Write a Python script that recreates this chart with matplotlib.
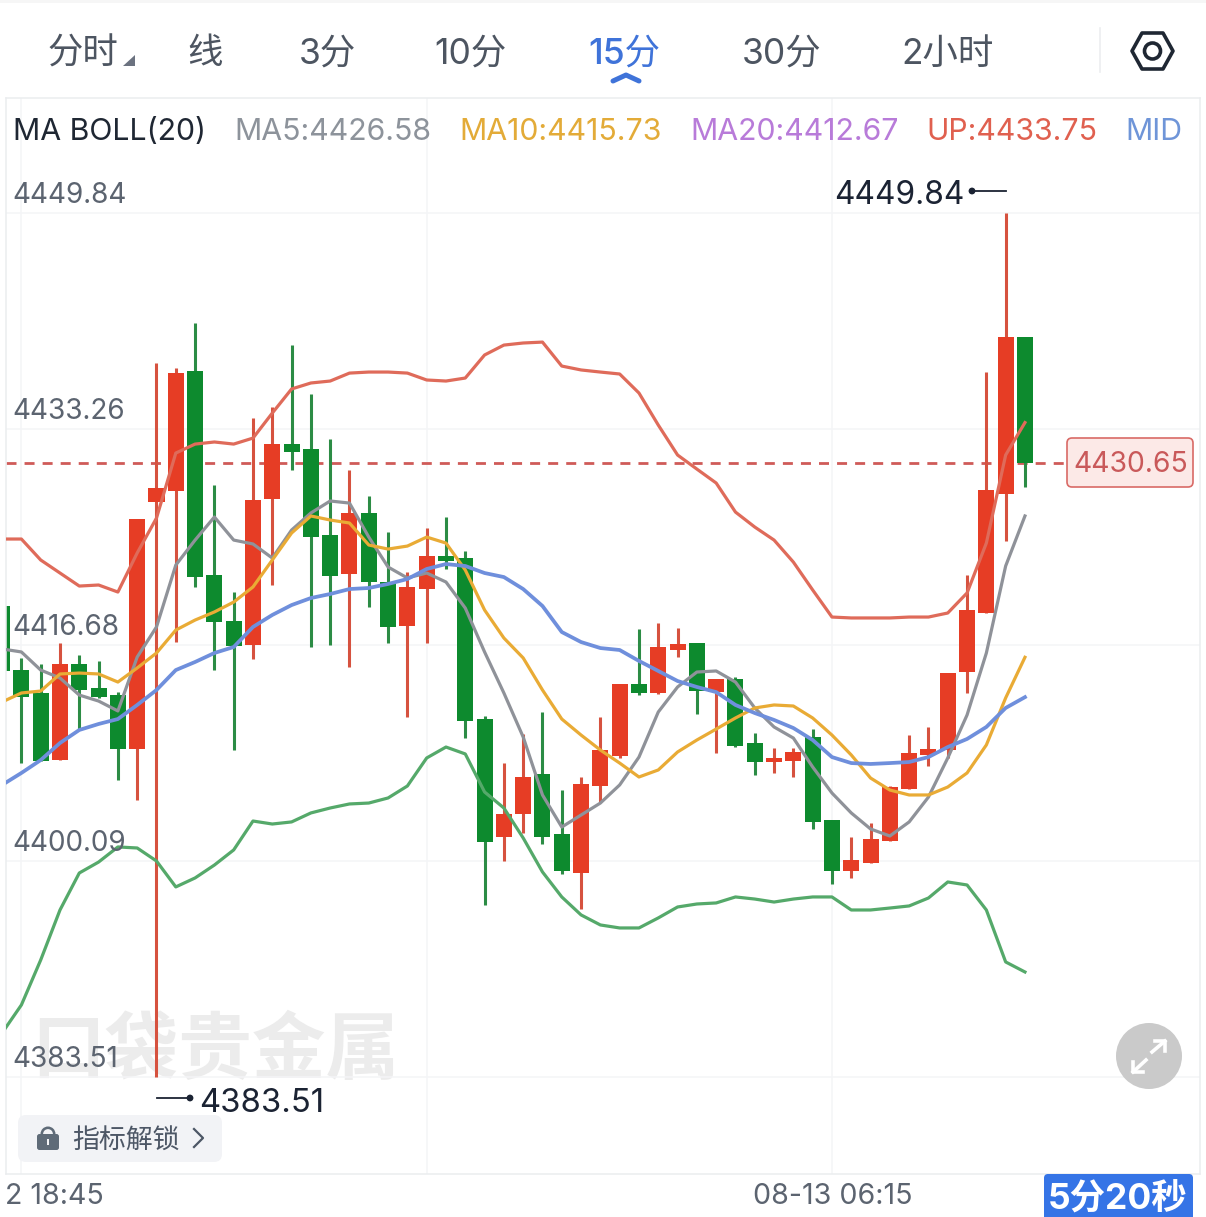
import matplotlib
matplotlib.use("Agg")
import matplotlib.pyplot as plt
from matplotlib.patches import FancyBboxPatch, Circle, Polygon, Rectangle, Wedge
from matplotlib.lines import Line2D

plt.rcParams['font.family'] = ['Inter', 'Noto Sans CJK SC', 'DejaVu Sans']

W, H = 1206, 1217
DPI = 100

# ---------- data ----------
tabs = ['分时', '线', '3分', '10分', '15分', '30分', '2小时']
legend_labels = ['MA BOLL(20)', 'MA5:4426.58', 'MA10:4415.73', 'MA20:4412.67', 'UP:4433.75', 'MID']
y_ticks = [4449.84, 4433.26, 4416.68, 4400.09, 4383.51]
y_tick_labels = ['4449.84', '4433.26', '4416.68', '4400.09', '4383.51']
x_grid = [1, 22, 43]
last_price = 4430.65

# top / bottom of candle body and wick extremes, bullish flag
highs = [4419.67, 4415.68, 4415.21, 4416.83, 4415.91, 4415.45, 4413.06, 4426.35, 4438.32, 4437.94,
         4441.39, 4428.96, 4420.74, 4434.10, 4434.94, 4439.70, 4435.94, 4432.49, 4430.11, 4428.11,
         4425.35, 4422.28, 4425.66, 4426.50, 4423.89, 4411.22, 4407.61, 4409.84, 4411.53, 4405.54,
         4406.54, 4411.15, 4413.68, 4417.90, 4418.36, 4417.98, 4416.83, 4414.06, 4414.22, 4409.92,
         4408.77, 4408.77, 4410.22, 4403.24, 4401.93, 4403.01, 4405.85, 4409.76, 4410.38, 4414.52,
         4422.05, 4437.63, 4449.84, 4440.32]
body_tops = [4419.67, 4414.75, 4412.99, 4415.21, 4415.21, 4413.37, 4412.83, 4426.35, 4428.73, 4437.55,
             4437.71, 4422.05, 4418.52, 4427.80, 4432.10, 4432.10, 4431.72, 4425.12, 4426.81, 4426.81,
             4421.51, 4421.13, 4423.51, 4423.51, 4423.35, 4410.99, 4403.70, 4406.54, 4406.77, 4402.16,
             4406.00, 4408.61, 4413.68, 4413.68, 4416.52, 4416.75, 4416.83, 4414.06, 4414.06, 4409.15,
             4408.00, 4408.46, 4409.61, 4403.24, 4400.17, 4401.78, 4405.77, 4408.38, 4408.69, 4414.52,
             4419.36, 4428.57, 4440.32, 4440.32]
body_bottoms = [4414.68, 4412.68, 4407.77, 4407.84, 4413.22, 4412.68, 4408.69, 4408.69, 4427.65, 4428.50,
                4421.89, 4418.44, 4416.60, 4416.67, 4427.88, 4431.49, 4424.96, 4421.97, 4422.12, 4421.51,
                4418.06, 4418.13, 4420.97, 4423.12, 4410.84, 4401.55, 4401.93, 4403.70, 4401.93, 4399.32,
                4399.17, 4405.85, 4408.15, 4412.99, 4412.99, 4416.29, 4413.14, 4413.06, 4408.92, 4407.69,
                4407.69, 4407.77, 4403.09, 4399.32, 4399.32, 4399.94, 4401.63, 4405.62, 4408.23, 4408.61,
                4414.60, 4419.13, 4428.27, 4430.65]
lows = [4414.68, 4407.61, 4407.77, 4407.84, 4410.15, 4412.60, 4406.31, 4404.77, 4383.51, 4416.90,
        4421.13, 4414.75, 4408.61, 4415.60, 4421.28, 4430.11, 4416.52, 4416.67, 4414.98, 4419.59,
        4416.83, 4411.15, 4416.83, 4422.51, 4409.53, 4396.71, 4400.09, 4402.24, 4401.40, 4399.09,
        4396.41, 4404.62, 4408.00, 4412.83, 4412.91, 4415.75, 4411.38, 4408.38, 4408.84, 4406.69,
        4406.85, 4406.54, 4402.55, 4398.32, 4398.79, 4399.94, 4401.63, 4405.62, 4407.38, 4408.00,
        4412.99, 4419.13, 4424.66, 4428.80]
bullish = [0, 0, 0, 1, 0, 0, 0, 1, 1, 1,
           0, 0, 0, 1, 1, 0, 0, 0, 1, 0,
           0, 1, 1, 0, 0, 0, 1, 1, 0, 0,
           1, 1, 1, 0, 1, 1, 0, 1, 0, 0,
           1, 1, 0, 0, 1, 1, 1, 1, 1, 1,
           1, 1, 1, 0]

boll_up = [4424.81, 4424.81, 4423.20, 4422.20, 4421.20, 4421.28, 4420.74, 4423.74, 4426.42, 4431.41,
           4432.10, 4432.26, 4432.10, 4432.56, 4434.48, 4436.33, 4436.79, 4436.94, 4437.55, 4437.63,
           4437.63, 4437.55, 4437.02, 4436.94, 4437.17, 4438.94, 4439.70, 4439.86, 4439.93, 4438.09,
           4437.79, 4437.63, 4437.48, 4436.02, 4433.56, 4431.26, 4430.18, 4429.11, 4426.88, 4425.73,
           4424.73, 4423.04, 4420.90, 4418.82, 4418.75, 4418.75, 4418.75, 4418.82, 4418.82, 4419.13,
           4420.67, 4424.50, 4431.26, 4433.75]
boll_mid = [4405.93, 4406.85, 4407.84, 4409.15, 4410.15, 4410.61, 4410.99, 4412.07, 4413.22, 4414.75,
            4415.37, 4416.06, 4416.52, 4418.06, 4418.98, 4419.74, 4420.28, 4420.59, 4420.97, 4421.05,
            4421.36, 4421.74, 4422.51, 4422.89, 4422.74, 4422.20, 4421.89, 4420.97, 4419.67, 4417.67,
            4416.90, 4416.44, 4416.29, 4415.45, 4414.68, 4413.91, 4413.45, 4413.06, 4412.07, 4411.45,
            4410.92, 4410.30, 4409.38, 4408.07, 4407.61, 4407.54, 4407.61, 4407.69, 4408.07, 4408.84,
            4409.46, 4410.38, 4411.84, 4412.67]
boll_low = [4386.89, 4389.04, 4392.49, 4396.33, 4399.17, 4400.01, 4401.17, 4401.09, 4400.09, 4398.10,
            4398.79, 4399.78, 4400.94, 4403.16, 4402.93, 4403.09, 4403.78, 4404.16, 4404.47, 4404.54,
            4404.93, 4405.85, 4408.00, 4408.84, 4408.31, 4405.39, 4404.16, 4401.86, 4399.25, 4397.33,
            4395.95, 4395.18, 4394.95, 4394.95, 4395.72, 4396.56, 4396.79, 4396.87, 4397.33, 4397.17,
            4396.94, 4397.17, 4397.33, 4397.33, 4396.33, 4396.33, 4396.48, 4396.64, 4397.25, 4398.48,
            4398.25, 4396.33, 4392.34, 4391.57]
ma5 = [4416.37, 4416.14, 4414.75, 4414.14, 4412.83, 4412.37, 4411.61, 4415.75, 4418.06, 4422.81,
       4424.73, 4426.50, 4424.73, 4424.43, 4423.35, 4425.50, 4426.81, 4427.73, 4427.57, 4424.96,
       4422.66, 4421.82, 4422.20, 4421.51, 4419.51, 4416.14, 4412.99, 4409.61, 4405.16, 4402.70,
       4403.62, 4404.54, 4405.93, 4408.07, 4411.53, 4413.45, 4414.60, 4414.68, 4413.83, 4411.84,
       4410.38, 4409.53, 4407.31, 4405.31, 4403.78, 4402.55, 4402.01, 4403.09, 4405.00, 4408.00,
       4411.30, 4416.06, 4422.74, 4426.58]
ma10 = [4412.30, 4412.99, 4413.14, 4414.45, 4414.52, 4414.45, 4413.83, 4414.91, 4416.06, 4417.82,
        4418.59, 4419.21, 4419.97, 4421.13, 4423.20, 4425.27, 4426.58, 4426.27, 4426.04, 4424.35,
        4424.04, 4424.27, 4424.96, 4424.50, 4422.43, 4419.36, 4417.21, 4415.68, 4413.22, 4410.99,
        4409.76, 4408.61, 4407.61, 4406.54, 4407.08, 4408.46, 4409.38, 4410.22, 4411.07, 4411.84,
        4412.07, 4411.99, 4411.07, 4409.76, 4408.23, 4406.46, 4405.54, 4405.16, 4405.16, 4405.77,
        4406.85, 4409.00, 4412.61, 4415.73]

# ---------- figure ----------
fig = plt.figure(figsize=(W / DPI, H / DPI), dpi=DPI, facecolor='white')


def overlay(z):
    a = fig.add_axes([0, 0, 1, 1], zorder=z)
    a.set_xlim(0, W)
    a.set_ylim(H, 0)
    a.axis('off')
    a.patch.set_alpha(0)
    return a


bg = overlay(0)
fg = overlay(2)

# plot box: pixels x 6..1200, y 98..1174
ax = fig.add_axes([6 / W, 1 - 1174 / H, (1200 - 6) / W, (1174 - 98) / H], zorder=1)
ax.patch.set_alpha(0)
ax.set_xlim(0.202, 62.07)
ax.set_ylim(4376.06, 4458.67)
for s in ax.spines.values():
    s.set_color('#ebedef')
    s.set_linewidth(1.1)
ax.set_yticks(y_ticks)
ax.set_xticks(x_grid)
ax.tick_params(length=0, labelleft=False, labelbottom=False)
ax.grid(True, color='#f4f5f7', lw=1.1)
ax.set_axisbelow(True)

ax.axhline(last_price, color='#cf5b58', lw=2.0, dashes=(3.6, 2.9), zorder=1.5,
           xmax=(1067 - 6) / (1200 - 6))

RED, GREEN = '#e63d25', '#0d8a2e'
REDW, GREENW = '#d6523f', '#2c8c45'
n = len(highs)
for i in range(n):
    up = bullish[i]
    ax.vlines(i, lows[i], highs[i], color=REDW if up else GREENW, lw=2.2, zorder=2)
    ax.bar(i, body_tops[i] - body_bottoms[i], bottom=body_bottoms[i], width=0.83,
           color=RED if up else GREEN, lw=0, zorder=2.5)

xs = list(range(n))
ax.plot(xs, boll_up, color='#df6b5a', lw=2.3, zorder=3, solid_joinstyle='round')
ax.plot(xs, boll_low, color='#55a96a', lw=2.3, zorder=3, solid_joinstyle='round')
ax.plot(xs, ma5, color='#8f9299', lw=2.3, zorder=3.1, solid_joinstyle='round')
ax.plot(xs, ma10, color='#e9ab35', lw=2.3, zorder=3.2, solid_joinstyle='round')
ax.plot(xs, boll_mid, color='#6f8fdc', lw=2.7, zorder=3.3, solid_joinstyle='round')

# y tick labels sit just above their grid lines
for v, lab in zip(y_ticks, y_tick_labels):
    ax.annotate(lab, xy=(0, v), xycoords=ax.get_yaxis_transform(), xytext=(4.5, 12.4),
                textcoords='offset points', ha='left', va='center', fontsize=20.1,
                color='#5c6470', zorder=5)

# ---------- tabs ----------
tab_x = [83, 205, 327, 470, 624, 782, 947]
for t, x in zip(tabs, tab_x):
    active = t == '15分'
    fg.text(x, 54, t, ha='center', va='center', fontsize=25.5,
            color='#3f73d9' if active else '#4d5561', fontweight='medium' if active else 'normal')
fg.add_patch(Polygon([(123, 66), (135, 66), (135, 55)], closed=True, fc='#6b7280', ec='none'))
fg.add_line(Line2D([613, 626, 639], [81, 75, 81], color='#3f73d9', lw=3.6, solid_capstyle='round'))
fg.add_line(Line2D([1099.5, 1099.5], [28, 72], color='#eceef0', lw=1.2))
fg.add_patch(Polygon([(1132, 51), (1142, 33), (1163, 33), (1173, 51), (1163, 69), (1142, 69)],
                     closed=True, fc='none', ec='#1f2733', lw=2.6, joinstyle='round'))
fg.add_patch(Circle((1152.5, 51), 8, fc='none', ec='#1f2733', lw=2.6))

# ---------- legend row ----------
legend_x = [13, 234, 459, 690, 926, 1125]
legend_c = ['#1f2733', '#8d939b', '#e3ab38', '#b87bd9', '#e0604f', '#6f95d8']
for t, x, c in zip(legend_labels, legend_x, legend_c):
    fg.text(x, 132, t, ha='left', va='center', fontsize=21.8, color=c)

# ---------- high / low markers ----------
fg.text(834, 196, '4449.84', ha='left', va='center', fontsize=22.8, color='#1b2333')
fg.add_line(Line2D([972, 1006], [191, 191], color='#1b2333', lw=1.3))
fg.add_patch(Circle((972, 191), 3.4, fc='#1b2333', ec='none'))
fg.text(199, 1103, '4383.51', ha='left', va='center', fontsize=23.7, color='#1b2333')
fg.add_line(Line2D([157, 190], [1098, 1098], color='#1b2333', lw=1.3))
fg.add_patch(Circle((190, 1098), 3.4, fc='#1b2333', ec='none'))

# ---------- last price tag ----------
fg.add_patch(FancyBboxPatch((1070, 441), 120, 43, boxstyle='round,pad=3,rounding_size=5',
                            fc='#fce9e7', ec='#d96a66', lw=1.2))
fg.text(1130.5, 465, '4430.65', ha='center', va='center', fontsize=20.4, color='#c9595a')

# ---------- watermark ----------
bg.text(215, 1053, '口袋贵金属', ha='center', va='center', fontsize=53, fontweight='bold',
        color='#ececec')

# ---------- unlock button ----------
fg.add_patch(FancyBboxPatch((24, 1121), 192, 35, boxstyle='round,pad=6,rounding_size=8',
                            fc='#f2f3f6', ec='none'))
fg.add_patch(FancyBboxPatch((38, 1135), 20, 14, boxstyle='round,pad=1,rounding_size=2.5',
                            fc='#5f6b78', ec='none'))
fg.add_patch(Wedge((48, 1134), 7.5, 180, 360, width=2.6, fc='#5f6b78', ec='none'))
fg.add_patch(Rectangle((47, 1139), 2.4, 6, fc='#f2f3f6', ec='none'))
fg.text(72, 1141, '指标解锁', ha='left', va='center', fontsize=19.4, color='#4d5766')
fg.add_line(Line2D([194, 203, 194], [1129, 1138, 1147], color='#4d5766', lw=1.6))

# ---------- expand button ----------
fg.add_patch(Circle((1149, 1056), 33, fc='#cacaca', ec='none'))
for pts in ([(1152, 1052), (1165, 1041)], [(1146, 1060), (1133, 1072)],
            [(1155, 1041), (1165, 1041), (1165, 1051)], [(1133, 1062), (1133, 1072), (1143, 1072)]):
    fg.add_line(Line2D(*zip(*pts), color='white', lw=2.6))

# ---------- x labels ----------
fg.text(5, 1197, '2 18:45', ha='left', va='center', fontsize=20.6, color='#5c6470')
fg.text(832.5, 1197, '08-13 06:15', ha='center', va='center', fontsize=20.6, color='#5c6470')

# ---------- countdown badge ----------
fg.add_patch(FancyBboxPatch((1047, 1177), 143, 60, boxstyle='round,pad=3,rounding_size=4',
                            fc='#3574e6', ec='none', clip_on=True))
fg.text(1118, 1199, '5分20秒', ha='center', va='center', fontsize=25.5, fontweight='bold',
        color='white')

# thin strip at the very top of the screenshot
bg.add_patch(Rectangle((0, 0), W, 3, fc='#f6f6f6', ec='none'))

fig.savefig('out.png', dpi=DPI, facecolor='white')
